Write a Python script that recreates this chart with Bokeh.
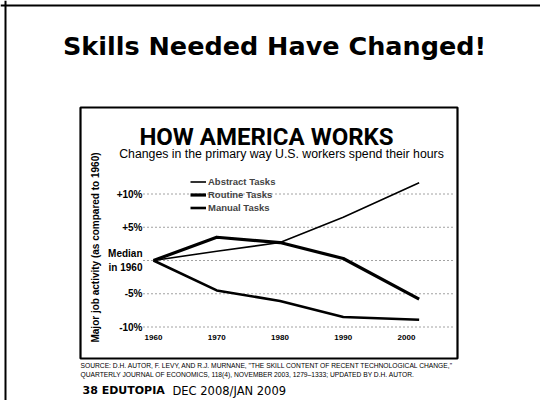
from math import pi
from bokeh.plotting import figure
from bokeh.models import Label, BoxAnnotation, Legend, LegendItem, FixedTicker, Span
from bokeh.embed import file_html
from bokeh.resources import INLINE

# ---- data ----
years = [1960, 1970, 1980, 1990, 2002]
abstract = [0, 1.4, 2.7, 6.5, 11.7]
routine = [0, 3.5, 2.7, 0.3, -5.8]
manual = [0, -4.5, -6.1, -8.5, -8.9]
series_names = ["Abstract Tasks", "Routine Tasks", "Manual Tasks"]
x_ticks = [1960, 1970, 1980, 1990, 2000]
x_tick_labels = ["1960", "1970", "1980", "1990", "2000"]
y_ticks = [10, 5, 0, -5, -10]
y_tick_labels = ["+10%", "+5%", "Median\nin 1960", "-5%", "-10%"]

# ---- layout helpers (canvas pixel -> data) ----
W, H = 540, 400
X0_PX, X_PER_YEAR = 153, 6.325
Y0_PX, Y_PER_PCT = 260, 6.65


def dx(px):
    return 1960 + (px - X0_PX) / X_PER_YEAR


def dy(py):
    return (Y0_PX - py) / Y_PER_PCT


p = figure(width=W, height=H, x_range=(dx(0), dx(W)), y_range=(dy(H), dy(0)),
           output_backend="svg", toolbar_location=None, min_border=0)
p.outline_line_color = None
p.xgrid.visible = False
p.ygrid.visible = False
p.background_fill_color = "white"
p.border_fill_color = "white"

# axes drawn inside the chart box
for ax in (p.xaxis[0], p.yaxis[0]):
    ax.axis_line_color = None
    ax.major_tick_line_color = None
    ax.minor_tick_line_color = None
    ax.major_label_text_color = "black"
    ax.major_label_text_font = "Liberation Sans"
    ax.major_label_text_font_style = "bold"

p.xaxis.fixed_location = dy(326)
p.xaxis.ticker = FixedTicker(ticks=x_ticks)
p.xaxis.major_label_overrides = dict(zip(x_ticks, x_tick_labels))
p.xaxis.major_label_standoff = 2
p.xaxis.major_label_text_font_size = "8px"

p.yaxis.fixed_location = dx(150)
p.yaxis.ticker = FixedTicker(ticks=y_ticks)
p.yaxis.major_label_overrides = dict(zip(y_ticks, y_tick_labels))
p.yaxis.major_label_standoff = 2
p.yaxis.major_label_text_font_size = "10px"

# dotted reference lines
p.segment(x0=dx(143), x1=dx(452), y0=y_ticks, y1=y_ticks,
          line_color="#444444", line_width=1, line_dash="1 3")

# series
r1 = p.line(years, abstract, line_color="black", line_width=1.6, line_join="round")
r2 = p.line(years, routine, line_color="black", line_width=3.2, line_join="round")
r3 = p.line(years, manual, line_color="black", line_width=2.6, line_join="round")

legend = Legend(items=[LegendItem(label=series_names[0], renderers=[r1]),
                       LegendItem(label=series_names[1], renderers=[r2]),
                       LegendItem(label=series_names[2], renderers=[r3])],
                location=(190, 186), orientation="vertical")
legend.border_line_color = None
legend.background_fill_alpha = 0
legend.padding = 0
legend.margin = 0
legend.spacing = 0
legend.glyph_width = 16
legend.glyph_height = 13
legend.label_height = 13
legend.label_standoff = 2
legend.label_text_font = "Liberation Sans"
legend.label_text_font_style = "bold"
legend.label_text_font_size = "9.5px"
p.add_layout(legend)

# chart box
p.add_layout(BoxAnnotation(left=dx(80), right=dx(457), top=dy(107), bottom=dy(358),
                           fill_alpha=0, line_color="black", line_alpha=1, line_width=2.2))

# page borders
p.add_layout(Span(location=dx(5), dimension="height", line_color="black", line_width=2))
p.add_layout(Span(location=dy(5), dimension="width", line_color="black", line_width=2))

# texts
p.add_layout(Label(x=dx(274), y=dy(45), text="Skills Needed Have Changed!",
                   text_align="center", text_baseline="alphabetic",
                   text_font="DejaVu Sans", text_font_style="bold", text_font_size="25.5px",
                   text_color="black"))
p.add_layout(Label(x=dx(266), y=dy(136), text="HOW AMERICA WORKS",
                   text_align="center", text_baseline="alphabetic",
                   text_font="Roboto", text_font_style="bold", text_font_size="24px",
                   text_color="black"))
p.add_layout(Label(x=dx(281), y=dy(153),
                   text="Changes in the primary way U.S. workers spend their hours",
                   text_align="center", text_baseline="alphabetic",
                   text_font="Liberation Sans", text_font_size="12.3px", text_color="black"))
p.add_layout(Label(x=dx(95), y=dy(247), text="Major job activity (as compared to 1960)",
                   angle=pi / 2, text_align="center", text_baseline="middle",
                   text_font="Liberation Sans", text_font_style="bold", text_font_size="10px",
                   text_color="black"))
p.add_layout(Label(x=dx(80), y=dy(365),
                   text='SOURCE: D.H. AUTOR, F. LEVY, AND R.J. MURNANE, "THE SKILL CONTENT OF RECENT TECHNOLOGICAL CHANGE,"',
                   text_align="left", text_baseline="alphabetic",
                   text_font="Liberation Sans", text_font_size="6.7px", text_color="black"))
p.add_layout(Label(x=dx(80), y=dy(374),
                   text="QUARTERLY JOURNAL OF ECONOMICS, 118(4), NOVEMBER 2003, 1279\u20131333; UPDATED BY D.H. AUTOR.",
                   text_align="left", text_baseline="alphabetic",
                   text_font="Liberation Sans", text_font_size="6.7px", text_color="black"))
p.add_layout(Label(x=dx(82), y=dy(390), text="38  EDUTOPIA",
                   text_align="left", text_baseline="alphabetic",
                   text_font="DejaVu Sans", text_font_style="bold", text_font_size="11px",
                   text_color="black"))
p.add_layout(Label(x=dx(172), y=dy(390), text="DEC 2008/JAN 2009",
                   text_align="left", text_baseline="alphabetic",
                   text_font="DejaVu Sans", text_font_size="11.5px", text_color="black"))

open("out.html", "w").write(file_html(p, INLINE))
